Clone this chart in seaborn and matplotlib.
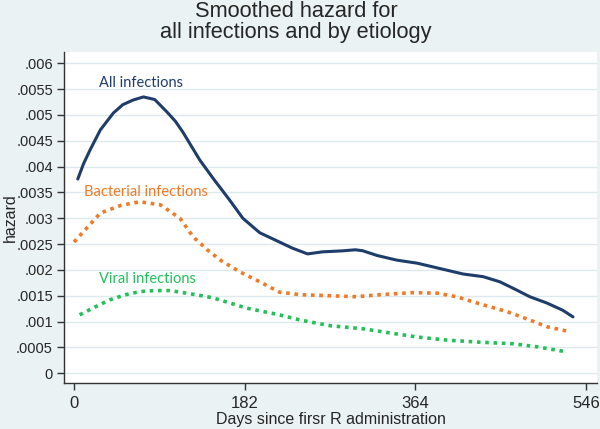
import pandas as pd
import seaborn as sns
import matplotlib.pyplot as plt

# values
all_days = [4, 10, 17, 28, 42, 52, 63, 74, 86, 99, 108, 116, 124, 134, 148, 166, 180, 198, 219,
            233, 249, 265, 287, 300, 308, 323, 344, 366, 387, 415, 436, 454, 472, 486, 504, 521, 532]
all_haz = [.00376, .00405, .00432, .00471, .00504, .0052, .00529, .00535, .0053, .00506, .00488,
           .00467, .00443, .00413, .00378, .00335, .003, .00272, .00254, .00242, .00231, .00235,
           .00237, .00239, .00237, .00228, .00219, .00213, .00204, .00192, .00187, .00177,
           .00161, .00148, .00136, .00122, .00109]

bact_days = [0, 14, 28, 50, 70, 92, 113, 127, 142, 156, 177, 198, 219, 241, 273, 301, 326, 361,
             387, 408, 433, 462, 486, 504, 527]
bact_haz = [.00254, .00282, .0031, .00325, .00332, .00326, .003, .00264, .00239, .00219, .00196,
            .00177, .00157, .00152, .0015, .00148, .00152, .00156, .00155, .00148, .00134,
            .00119, .00103, .0009, .00081]

viral_days = [6, 20, 38, 55, 70, 86, 102, 113, 130, 148, 166, 184, 219, 241, 273, 308, 344, 366,
              398, 433, 468, 494, 523]
viral_haz = [.00113, .00126, .00142, .00152, .00158, .0016, .0016, .00157, .00152, .00146,
             .00136, .00126, .00113, .00103, .00092, .00086, .00076, .0007, .00064, .0006,
             .00057, .00051, .00042]

x_ticks = [0, 182, 364, 546]
y_ticks = [0, .0005, .001, .0015, .002, .0025, .003, .0035, .004, .0045, .005, .0055, .006]
y_labels = ['0', '.0005', '.001', '.0015', '.002', '.0025', '.003', '.0035', '.004', '.0045',
            '.005', '.0055', '.006']

sns.set_style('white')
plt.rcParams['font.family'] = ['Liberation Sans', 'DejaVu Sans']

bg = '#eaf2f3'
fig = plt.figure(figsize=(6, 4.29), dpi=100, facecolor=bg)
ax = fig.add_axes([64 / 600, 1 - 383 / 429, (597 - 64) / 600, (383 - 52) / 429])
ax.set_facecolor('white')

navy = '#1f3d6b'
orange = '#f07a26'
green = '#22c05a'

sns.lineplot(x=all_days, y=all_haz, ax=ax, color=navy, linewidth=2.2)
sns.lineplot(x=bact_days, y=bact_haz, ax=ax, color=orange, linewidth=2.6,
             linestyle=(0, (1, 1.3)))
sns.lineplot(x=viral_days, y=viral_haz, ax=ax, color=green, linewidth=2.6,
             linestyle=(0, (1, 1.3)))

label_font = ['Lato', 'DejaVu Sans']
ax.text(27, .00561, 'All infections', color=navy, fontsize=10.5, family=label_font, va='center')
ax.text(11, .00351, 'Bacterial infections', color=orange, fontsize=10.5, family=label_font,
        va='center')
ax.text(27, .00183, 'Viral infections', color=green, fontsize=10.5, family=label_font,
        va='center')

ax.set_xlim(-10.7, 557.6)
ax.set_ylim(-0.00019, 0.00622)
ax.set_xticks(x_ticks)
ax.set_yticks(y_ticks)
ax.set_yticklabels(y_labels)
ax.yaxis.grid(True, color='#dde9ec', linewidth=1)
ax.xaxis.grid(False)

for side in ['top', 'right']:
    ax.spines[side].set_visible(False)
for side in ['left', 'bottom']:
    ax.spines[side].set_color('#333333')
    ax.spines[side].set_linewidth(1)
ax.tick_params(axis='both', length=5, width=1, color='#333333', pad=3, bottom=True, left=True)
ax.tick_params(axis='x', labelsize=12, pad=4)
ax.tick_params(axis='y', labelsize=10.5)

ax.set_xlabel('Days since firsr R administration', fontsize=11.5, labelpad=1)
ax.set_ylabel('hazard', fontsize=11.5)
ax.yaxis.set_label_coords(-46 / 533, 0.5)
fig.text(296 / 600, 1 - 17 / 429, 'Smoothed hazard for', ha='center', va='baseline',
         fontsize=15.7)
fig.text(296 / 600, 1 - 38 / 429, 'all infections and by etiology', ha='center', va='baseline',
         fontsize=15.7)

fig.savefig('out.png', dpi=100, facecolor=bg)
